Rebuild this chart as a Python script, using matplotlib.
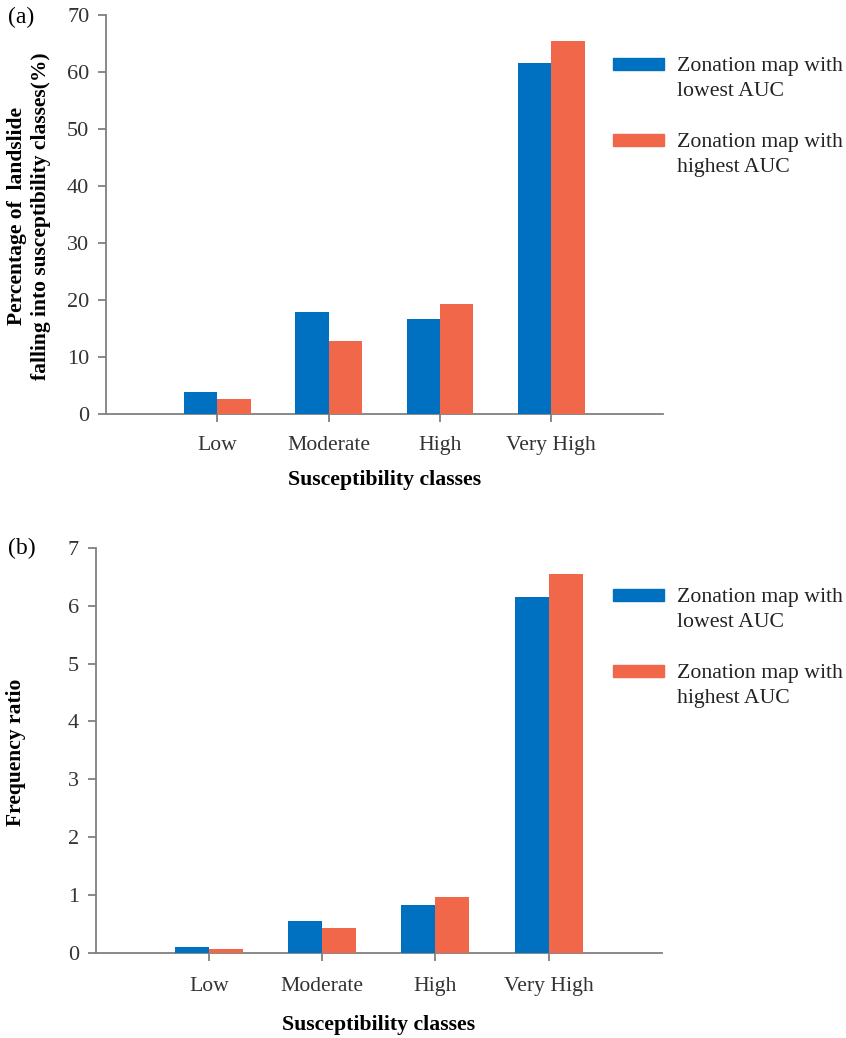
import matplotlib
matplotlib.use("Agg")
import matplotlib.pyplot as plt
from matplotlib.patches import Rectangle
import numpy as np

categories = ["Low", "Moderate", "High", "Very High"]
series_names = ["Zonation map with\nlowest AUC", "Zonation map with\nhighest AUC"]
pct_lowest = [3.9, 18.0, 16.7, 61.6]
pct_highest = [2.6, 12.9, 19.3, 65.4]
fr_lowest = [0.11, 0.56, 0.83, 6.15]
fr_highest = [0.07, 0.43, 0.97, 6.54]

colors = ["#0070C0", "#F0674A"]

plt.rcParams['font.family'] = ['Liberation Serif', 'DejaVu Serif']

fig = plt.figure(figsize=(8.46, 10.38), dpi=100)

axA = fig.add_axes([0.1253, 0.6009, 0.658, 0.3847])
axB = fig.add_axes([0.1131, 0.0816, 0.6694, 0.3908])

x = np.arange(len(categories))
w = 0.30

def style(ax, ymax, step, xpad, lpad):
    ax.set_xlim(-1, 4)
    ax.set_ylim(0, ymax)
    ax.set_yticks(np.arange(0, ymax + step / 2, step))
    ax.set_xticks(x)
    ax.set_xticklabels(categories)
    for s in ["top", "right"]:
        ax.spines[s].set_visible(False)
    for s in ["left", "bottom"]:
        ax.spines[s].set_color("#808080")
        ax.spines[s].set_linewidth(1.3)
    ax.tick_params(axis="both", colors="#808080", width=1.3, length=6,
                   labelcolor="#333333")
    ax.tick_params(axis="y", labelsize=16, pad=6)
    ax.tick_params(axis="x", labelsize=15.6, pad=xpad)
    ax.set_xlabel("Susceptibility classes", fontsize=15.7, fontweight="bold",
                  labelpad=lpad)

axA.bar(x - w / 2, pct_lowest, w, color=colors[0], zorder=3)
axA.bar(x + w / 2, pct_highest, w, color=colors[1], zorder=3)
style(axA, 70, 10, 10, 10.5)

axB.bar(x - w / 2, fr_lowest, w, color=colors[0], zorder=3)
axB.bar(x + w / 2, fr_highest, w, color=colors[1], zorder=3)
style(axB, 7, 1, 11, 13.5)

# Y labels
fig.text(29 / 846, 1 - 216 / 1038,
         "Percentage of  landslide\nfalling into susceptibility classes(%)",
         rotation=90, ha="center", va="center", fontsize=15.5,
         fontweight="bold", multialignment="center", linespacing=1.22)
fig.text(16 / 846, 1 - 752 / 1038, "Frequency ratio", rotation=90,
         ha="center", va="center", fontsize=15.5, fontweight="bold")

# Panel letters
fig.text(8 / 846, 1 - 17 / 1038, "(a)", ha="left", va="center", fontsize=17)
fig.text(8 / 846, 1 - 548 / 1038, "(b)", ha="left", va="center", fontsize=17)

# Legends (manual)
def legend(top_y):
    for i, name in enumerate(series_names):
        y = top_y + i * 76
        fig.patches.append(Rectangle((613 / 846, 1 - (y + 6) / 1038),
                                     51 / 846, 12 / 1038,
                                     transform=fig.transFigure,
                                     color=colors[i]))
        fig.text(677 / 846, 1 - (y + 15) / 1038, name, ha="left",
                 va="center", fontsize=15.7, color="#222222",
                 linespacing=1.36)

legend(64)
legend(595)

fig.savefig("out.png", dpi=100)
